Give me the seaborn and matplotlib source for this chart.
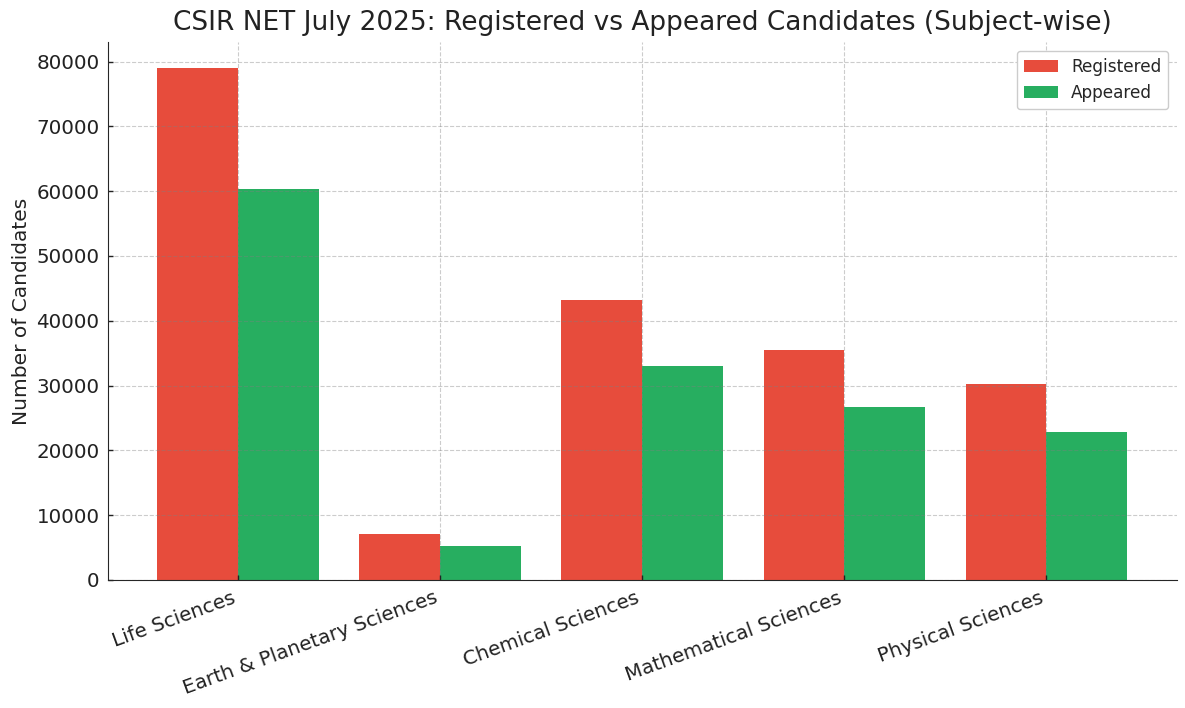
import matplotlib
matplotlib.use("Agg")
import matplotlib.pyplot as plt
import seaborn as sns
import pandas as pd

subjects = ["Life Sciences", "Earth & Planetary Sciences", "Chemical Sciences",
            "Mathematical Sciences", "Physical Sciences"]
registered = [79000, 7120, 43200, 35550, 30300]
appeared = [60300, 5230, 32950, 26680, 22780]
series_names = ["Registered", "Appeared"]
colors = ["#e74c3c", "#27ae60"]

df = pd.DataFrame({
    "Subject": subjects * 2,
    "Count": registered + appeared,
    "Status": [series_names[0]] * len(subjects) + [series_names[1]] * len(subjects),
})

sns.set_style("white")
plt.rcParams['font.family'] = ['DejaVu Sans']

fig, ax = plt.subplots(figsize=(11.85, 7.08), dpi=100)
fig.subplots_adjust(left=0.091, right=0.993, top=0.94, bottom=0.181)

sns.barplot(data=df, x="Subject", y="Count", hue="Status", palette=colors,
            width=0.8, saturation=1, ax=ax, gap=0, linewidth=0, edgecolor="none")
for p in ax.patches:
    p.set_zorder(1)

ax.set_xlim(-0.645, 4.645)
ax.set_title("CSIR NET July 2025: Registered vs Appeared Candidates (Subject-wise)",
             fontsize=19, color="#222222", pad=9)
ax.set_xlabel("")
ax.set_ylabel("Number of Candidates", fontsize=14.5, color="#222222")
ax.tick_params(axis="both", labelsize=14.3, colors="#222222",
               left=True, bottom=True, length=3.5, width=1, direction="in", pad=6)
plt.setp(ax.get_xticklabels(), rotation=20, ha="right")
ax.set_axisbelow("line")
ax.grid(True, linestyle="--", color="gray", alpha=0.4, linewidth=0.8)
ax.spines["top"].set_visible(False)
ax.spines["right"].set_visible(False)
ax.legend(loc="upper right", fontsize=12.2, title=None, framealpha=1)

fig.savefig("out.png", dpi=100)
